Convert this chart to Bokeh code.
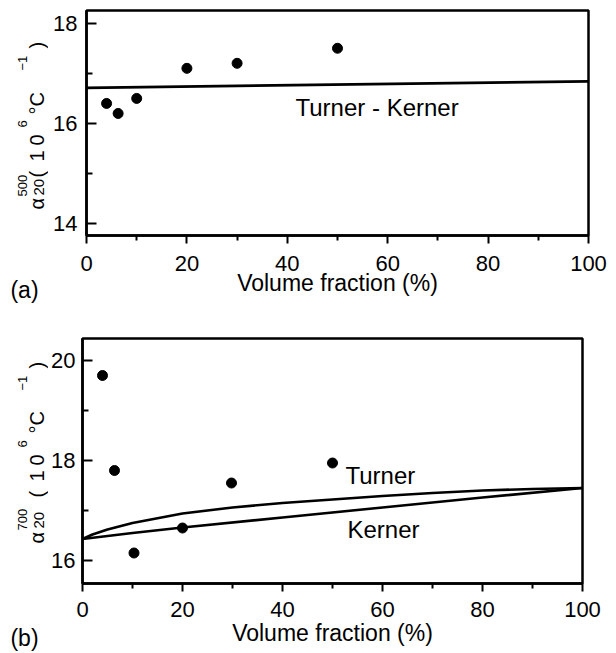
import math
from bokeh.plotting import figure
from bokeh.layouts import column, row
from bokeh.models import Label, FixedTicker, Range1d
from bokeh.embed import file_html
from bokeh.resources import INLINE

# ---------------- data ----------------
x_ticks = [0, 20, 40, 60, 80, 100]
x_minor = [10, 30, 50, 70, 90]

top_y_ticks = [14, 16, 18]
top_y_minor = [15, 17]
top_x = [4, 6.3, 10, 20, 30, 50]
top_y = [16.4, 16.2, 16.5, 17.1, 17.2, 17.5]
tk_x = [0, 100]
tk_y = [16.71, 16.84]

bot_y_ticks = [16, 18, 20]
bot_y_minor = [17, 19]
bot_x = [4, 6.4, 10.3, 20, 29.8, 50]
bot_y = [19.7, 17.8, 16.15, 16.65, 17.55, 17.95]
turner_x = [0, 2, 5, 10, 20, 30, 40, 50, 60, 70, 80, 90, 100]
turner_y = [16.43, 16.52, 16.62, 16.75, 16.94, 17.06, 17.15, 17.22, 17.29, 17.35, 17.40, 17.43, 17.45]
kerner_x = [0, 10, 20, 40, 60, 80, 100]
kerner_y = [16.43, 16.55, 16.66, 16.86, 17.06, 17.26, 17.45]

x_title = "Volume fraction (%)"
FONT = "Liberation Sans"
SW = 48          # width of the strip holding the rotated y title
TOTAL_W = 616
MID = 0.3465     # distance (em) between text box middle and baseline


def make_fig(height, yr, left, right, top, bottom, yticks, yminor, ystand, xstand, lstand):
    p = figure(width=TOTAL_W - SW, height=height, output_backend="svg", toolbar_location=None,
               x_range=Range1d(0, 100), y_range=Range1d(*yr),
               min_border_left=left, min_border_right=right,
               min_border_top=top, min_border_bottom=bottom)
    p.xgrid.visible = False
    p.ygrid.visible = False
    p.outline_line_color = "black"
    p.outline_line_width = 2.5
    p.background_fill_color = "white"
    p.border_fill_color = "white"
    xa = p.xaxis[0]
    xa.ticker = FixedTicker(ticks=x_ticks, minor_ticks=x_minor)
    xa.major_tick_out = 8
    xa.major_tick_in = 0
    xa.minor_tick_out = 5
    xa.minor_tick_in = 0
    xa.axis_label = x_title
    xa.axis_label_text_font = FONT
    xa.axis_label_text_font_size = "23px"
    xa.axis_label_text_font_style = "normal"
    xa.axis_label_text_color = "black"
    xa.axis_label_standoff = lstand
    ya = p.yaxis[0]
    ya.ticker = FixedTicker(ticks=yticks, minor_ticks=yminor)
    ya.major_tick_in = 10
    ya.major_tick_out = 0
    ya.minor_tick_in = 6
    ya.minor_tick_out = 0
    ya.major_label_standoff = ystand
    xa.major_label_standoff = xstand
    for ax in (xa, ya):
        ax.axis_line_width = 2.5
        ax.axis_line_color = "black"
        ax.major_tick_line_width = 2
        ax.minor_tick_line_width = 2
        ax.major_tick_line_color = "black"
        ax.minor_tick_line_color = "black"
        ax.major_label_text_font = FONT
        ax.major_label_text_font_size = "22px"
        ax.major_label_text_color = "black"
    return p


def side_fig(height, top, bottom, frame_top_page, frame_bottom_page, tag, tag_stand):
    # frame spans the same page rows as the panel's frame; data units = page px (y negated)
    f = figure(width=SW, height=height, output_backend="svg", toolbar_location=None,
               x_range=Range1d(0, SW), y_range=Range1d(-frame_bottom_page, -frame_top_page),
               y_axis_location=None,
               min_border_left=0, min_border_right=0, min_border_top=top, min_border_bottom=bottom)
    f.grid.visible = False
    f.outline_line_color = None
    f.background_fill_color = "white"
    f.border_fill_color = "white"
    xa = f.xaxis[0]
    xa.ticker = FixedTicker(ticks=[])
    xa.axis_line_color = None
    xa.major_tick_line_color = None
    xa.minor_tick_line_color = None
    xa.major_tick_out = 0
    xa.major_tick_in = 0
    xa.minor_tick_out = 0
    xa.minor_tick_in = 0
    xa.major_label_standoff = 0
    xa.major_label_text_font_size = "0px"
    xa.axis_label = tag
    xa.axis_label_text_font = FONT
    xa.axis_label_text_font_size = "23px"
    xa.axis_label_text_font_style = "normal"
    xa.axis_label_text_color = "black"
    xa.axis_label_standoff = tag_stand
    return f


def lab(p, x, y, text, size, angle=0.0, align="left"):
    p.add_layout(Label(x=x, y=y, text=text, angle=angle,
                       text_font=FONT, text_font_size=f"{size}px", text_color="black",
                       text_align=align, text_baseline="alphabetic"))


def ylabel(f, sup, sub, pos):
    # pos: page-y start positions of the rotated pieces (read bottom to top)
    r = math.pi / 2
    bx = 43.8 - MID * 20      # main text, baseline at page x 43.8
    bs = 44.0 - MID * 15      # subscript
    sx = 27.0 - MID * 13      # superscripts
    lab(f, bx, -pos[0], "α", 20, r)
    lab(f, bs, -pos[1], sub, 15, r)
    lab(f, sx, -pos[2], sup, 13, r)
    lab(f, bx, -pos[3], "(", 20, r)
    lab(f, bx, -pos[4], "1", 20, r)
    lab(f, bx, -pos[5], "0", 20, r)
    lab(f, sx, -pos[6], "6", 13, r)
    lab(f, bx, -pos[7], "°C", 20, r)
    lab(f, sx, -pos[8], "−1", 13, r)
    lab(f, bx, -pos[9], ")", 20, r)


# ---------------- panel (a) ----------------
H1 = 322
p1 = make_fig(H1, (13.767, 18.253), 38, 28, 10, 87, top_y_ticks, top_y_minor, 9, 12, -4)
p1.line(tk_x, tk_y, line_color="black", line_width=2.8)
p1.scatter(top_x, top_y, marker="circle", size=10, fill_color="black", line_color="black")


def X1(px):
    return (px - 86) / 5.02


def Y1(py):
    return 18 - (py - 22.7) / 50.15


lab(p1, X1(295), Y1(115 - MID * 24), "Turner - Kerner", 24)

s1 = side_fig(H1, 10, 87, 10, 235, "(a)", 41)
ylabel(s1, "500", "20", [209, 195, 196, 177, 161, 145, 127, 114, 70, 48])

# ---------------- panel (b) ----------------
H2 = 331
p2 = make_fig(H2, (15.54, 20.44), 34, 34, 16, 70, bot_y_ticks, bot_y_minor, 7, 10, 0)
p2.line(turner_x, turner_y, line_color="black", line_width=2.6)
p2.line(kerner_x, kerner_y, line_color="black", line_width=2.6)
p2.scatter(bot_x, bot_y, marker="circle", size=10, fill_color="black", line_color="black")


def X2(px):
    return (px - 82) / 5.0


def Y2(py):
    return 16 + (560 - py) / 50


lab(p2, X2(345), Y2(483 - MID * 24), "Turner", 24)
lab(p2, X2(347), Y2(537 - MID * 24), "Kerner", 24)

s2 = side_fig(H2, 16, 70, 338, 583, "(b)", 41)
ylabel(s2, "700", "20", [543, 528, 530, 497, 481, 465, 447, 433, 390, 368])

layout = column(row(s1, p1), row(s2, p2))
open("out.html", "w").write(file_html(layout, INLINE))
